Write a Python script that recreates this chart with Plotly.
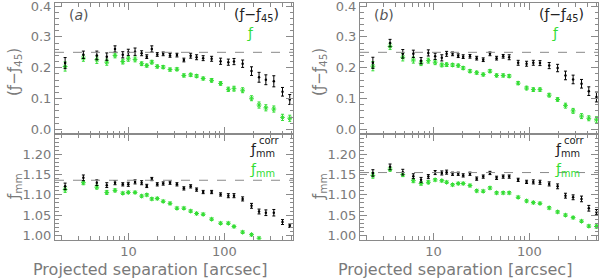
import plotly.graph_objects as go
import math

# ---------------- data ----------------
sep_a = [2.18, 3.38, 4.67, 5.93, 7.23, 8.71, 9.95, 11.7, 13.7, 15.5, 17.5, 19.95, 23.0, 27.1, 32.0,
         37.8, 44.5, 51.3, 60.1, 73.6, 91.3, 110, 126, 155, 192, 230, 271, 328, 404, 481]
sep_b = [2.33, 3.52, 4.78, 6.16, 7.41, 8.83, 10.4, 12.2, 13.7, 15.8, 18.1, 20.4, 24.0, 28.2, 33.0,
         38.8, 45.5, 53.3, 61.6, 76.4, 93.5, 110, 129, 161, 197, 238, 286, 350, 417, 501]

# panel (a) top: (f - f45) black, f green
fdiff_a = [0.215, 0.242, 0.240, 0.236, 0.261, 0.242, 0.250, 0.252, 0.247, 0.236, 0.261, 0.243, 0.245, 0.240, 0.241,
           0.225, 0.239, 0.234, 0.231, 0.229, 0.221, 0.218, 0.220, 0.213, 0.189, 0.169, 0.161, 0.156, 0.122, 0.097]
fdiff_a_err = [0.018, 0.012, 0.014, 0.012, 0.010, 0.010, 0.010, 0.012, 0.008, 0.006, 0.010, 0.006, 0.006, 0.006, 0.006,
               0.006, 0.008, 0.008, 0.008, 0.008, 0.010, 0.010, 0.010, 0.012, 0.014, 0.016, 0.016, 0.018, 0.014, 0.016]
f_a = [0.204, 0.231, 0.226, 0.218, 0.240, 0.220, 0.229, 0.227, 0.213, 0.207, 0.218, 0.204, 0.202, 0.194, 0.195,
       0.175, 0.177, 0.173, 0.165, 0.159, 0.149, 0.130, 0.132, 0.127, 0.101, 0.079, 0.070, 0.066, 0.039, 0.036]
f_a_err = [0.015, 0.010, 0.012, 0.010, 0.008, 0.008, 0.008, 0.008, 0.006, 0.005, 0.006, 0.005, 0.005, 0.005, 0.005,
           0.005, 0.005, 0.005, 0.005, 0.006, 0.006, 0.007, 0.008, 0.008, 0.008, 0.010, 0.010, 0.010, 0.010, 0.010]

# panel (a) bottom: f_mm^corr black, f_mm green
fmmc_a = [1.121, 1.142, 1.130, 1.124, 1.130, 1.126, 1.126, 1.132, 1.130, 1.122, 1.139, 1.126, 1.128, 1.130, 1.126,
          1.116, 1.121, 1.113, 1.107, 1.107, 1.101, 1.098, 1.098, 1.090, 1.073, 1.059, 1.056, 1.056, 1.033, 1.024]
fmmc_a_err = [0.008, 0.007, 0.007, 0.006, 0.005, 0.004, 0.005, 0.005, 0.005, 0.004, 0.004, 0.004, 0.004, 0.004, 0.004,
              0.004, 0.004, 0.004, 0.004, 0.004, 0.004, 0.005, 0.005, 0.005, 0.006, 0.006, 0.007, 0.008, 0.006, 0.004]
fmm_a = [1.113, 1.130, 1.119, 1.106, 1.111, 1.104, 1.106, 1.106, 1.097, 1.100, 1.090, 1.091, 1.084, 1.079, 1.067,
         1.067, 1.060, 1.054, 1.052, 1.040, 1.030, 1.030, 1.022, 1.008, 1.002, 0.993, None, None, None, None]
fmm_a_err = [0.007, 0.005, 0.005, 0.005, 0.004, 0.003, 0.003, 0.003, 0.003, 0.003, 0.003, 0.003, 0.003, 0.003, 0.003,
             0.003, 0.003, 0.003, 0.003, 0.003, 0.003, 0.003, 0.003, 0.003, 0.003, 0.003, 0.003, 0.003, 0.003, 0.003]

# panel (b) top
fdiff_b = [0.216, 0.280, 0.245, 0.245, 0.223, 0.248, 0.237, 0.232, 0.245, 0.245, 0.239, 0.236, 0.237, 0.231, 0.226,
           0.245, 0.231, 0.237, 0.234, 0.216, 0.213, 0.216, 0.215, 0.207, 0.199, 0.175, 0.162, 0.148, 0.124, 0.105]
fdiff_b_err = [0.018, 0.012, 0.014, 0.012, 0.010, 0.010, 0.010, 0.010, 0.008, 0.006, 0.006, 0.006, 0.006, 0.006, 0.006,
               0.006, 0.006, 0.006, 0.008, 0.008, 0.008, 0.008, 0.008, 0.010, 0.012, 0.014, 0.014, 0.014, 0.014, 0.016]
f_b = [0.205, 0.269, 0.234, 0.225, 0.215, 0.223, 0.218, 0.209, 0.210, 0.209, 0.207, 0.199, 0.189, 0.184, 0.178,
       0.189, 0.175, 0.175, 0.173, 0.150, 0.134, 0.129, 0.129, 0.111, 0.097, 0.077, 0.060, 0.043, 0.036, 0.031]
f_b_err = [0.015, 0.010, 0.012, 0.010, 0.008, 0.008, 0.008, 0.006, 0.006, 0.005, 0.005, 0.005, 0.005, 0.005, 0.005,
           0.005, 0.005, 0.005, 0.005, 0.005, 0.006, 0.006, 0.006, 0.006, 0.006, 0.008, 0.008, 0.008, 0.008, 0.010]

# panel (b) bottom
fmmc_b = [1.154, 1.169, 1.156, 1.146, 1.137, 1.145, 1.155, 1.154, 1.156, 1.152, 1.152, 1.148, 1.152, 1.140, 1.145,
          1.154, 1.142, 1.145, 1.145, 1.137, 1.132, 1.132, 1.131, 1.127, 1.121, 1.098, 1.094, 1.090, 1.067, 1.058]
fmmc_b_err = [0.008, 0.007, 0.007, 0.006, 0.006, 0.005, 0.005, 0.005, 0.005, 0.004, 0.004, 0.004, 0.004, 0.004, 0.004,
              0.004, 0.004, 0.004, 0.004, 0.004, 0.004, 0.005, 0.005, 0.005, 0.006, 0.006, 0.006, 0.007, 0.007, 0.006]
fmm_b = [1.148, 1.163, 1.150, 1.135, 1.128, 1.131, 1.137, 1.135, 1.131, 1.125, 1.128, 1.128, 1.123, 1.110, 1.109,
         1.117, 1.105, 1.105, 1.105, 1.094, 1.085, 1.081, 1.079, 1.068, 1.058, 1.050, 1.044, 1.035, 1.023, 1.022]
fmm_b_err = [0.007, 0.005, 0.005, 0.005, 0.004, 0.004, 0.003, 0.003, 0.003, 0.003, 0.003, 0.003, 0.003, 0.003, 0.003,
             0.003, 0.003, 0.003, 0.003, 0.003, 0.003, 0.003, 0.003, 0.003, 0.003, 0.003, 0.003, 0.003, 0.003, 0.004]

ref_top = 0.25
ref_bot_a = 1.136
ref_bot_b = 1.155

x_ticks = [10, 100]
x_ticktext = ["10", "100"]
top_ticks = [0.0, 0.1, 0.2, 0.3, 0.4]
bot_ticks = [1.00, 1.05, 1.10, 1.15, 1.20]

# ---------------- styling ----------------
BLACK = "#000000"
GREEN = "#33dd33"
AXC = "#8a8a8a"
TXT = "#7a7a7a"
FONT = "DejaVu Sans"

fig = go.Figure()

def add_pair(x, yb, eb, yg, eg, xa, ya):
    fig.add_trace(go.Scatter(
        x=x, y=yg, mode="markers", xaxis=xa, yaxis=ya, showlegend=False,
        marker=dict(symbol="asterisk-open", size=4, color=GREEN, line=dict(color=GREEN, width=1)),
        error_y=dict(type="data", array=eg, visible=True, color=GREEN, thickness=1, width=1.5)))
    fig.add_trace(go.Scatter(
        x=x, y=yb, mode="markers", xaxis=xa, yaxis=ya, showlegend=False,
        marker=dict(symbol="circle", size=2.5, color=BLACK),
        error_y=dict(type="data", array=eb, visible=True, color=BLACK, thickness=1, width=1.5)))

add_pair(sep_a, fdiff_a, fdiff_a_err, f_a, f_a_err, "x", "y")
add_pair(sep_a, fmmc_a, fmmc_a_err, fmm_a, fmm_a_err, "x2", "y2")
add_pair(sep_b, fdiff_b, fdiff_b_err, f_b, f_b_err, "x3", "y3")
add_pair(sep_b, fmmc_b, fmmc_b_err, fmm_b, fmm_b_err, "x4", "y4")

W, H = 600, 278
xl = [55 / W, 293 / W]
xr = [360 / W, 598 / W]
ytop = [(H - 134) / H, (H - 3) / H]
ybot = [(H - 239.5) / H, (H - 134) / H]
xrange_log = [math.log10(1.71), math.log10(520)]

def xaxis(domain, anchor, labels):
    return dict(
        type="log", domain=domain, anchor=anchor, range=xrange_log, automargin=False,
        tickvals=x_ticks, ticktext=x_ticktext, showticklabels=labels,
        ticks="inside", ticklen=7, tickcolor=AXC, tickwidth=1,
        minor=dict(ticks="inside", ticklen=3.5, tickcolor=AXC, dtick="D1", showgrid=False),
        showline=True, linecolor=AXC, linewidth=1, mirror="allticks", showgrid=False, zeroline=False,
        tickfont=dict(family=FONT, size=13, color=TXT), ticklabeloverflow="allow",
    )

def yaxis(domain, anchor, rng, ticks, fmt, minor_dtick):
    return dict(
        domain=domain, anchor=anchor, range=rng, tickvals=ticks, tickformat=fmt, automargin=False,
        ticks="inside", ticklen=7, tickcolor=AXC, tickwidth=1,
        minor=dict(ticks="inside", ticklen=3.5, tickcolor=AXC, dtick=minor_dtick, tick0=0, showgrid=False),
        showline=True, linecolor=AXC, linewidth=1, mirror="allticks", showgrid=False, zeroline=False,
        tickfont=dict(family=FONT, size=13, color=TXT), ticklabeloverflow="allow",
    )

fig.update_layout(
    width=W, height=H, margin=dict(l=0, r=0, t=0, b=0),
    paper_bgcolor="white", plot_bgcolor="white",
    xaxis=xaxis(xl, "y", False),
    xaxis2=xaxis(xl, "y2", True),
    xaxis3=xaxis(xr, "y3", False),
    xaxis4=xaxis(xr, "y4", True),
    yaxis=yaxis(ytop, "x", [-0.015, 0.41], top_ticks, ".1f", 0.02),
    yaxis2=yaxis(ybot, "x2", [0.99, 1.25], bot_ticks, ".2f", 0.01),
    yaxis3=yaxis(ytop, "x3", [-0.015, 0.41], top_ticks, ".1f", 0.02),
    yaxis4=yaxis(ybot, "x4", [0.99, 1.25], bot_ticks, ".2f", 0.01),
)

# dashed reference lines
for xa, ya, val in [("x", "y", ref_top), ("x2", "y2", ref_bot_a), ("x3", "y3", ref_top), ("x4", "y4", ref_bot_b)]:
    fig.add_shape(type="line", xref=f"{xa} domain", yref=ya, x0=0, x1=1, y0=val, y1=val,
                  line=dict(color="#8a8a8a", width=1, dash="dash"))

def ann(xa, ya, x, y, text, color, size=14, xanchor="left"):
    fig.add_annotation(xref=f"{xa} domain", yref=f"{ya} domain", x=x, y=y, text=text,
                       showarrow=False, xanchor=xanchor, yanchor="middle",
                       font=dict(family=FONT, size=size, color=color))

def pann(xp, yp, text, size, angle=0):
    fig.add_annotation(xref="paper", yref="paper", x=xp / W, y=1 - yp / H, text=text,
                       showarrow=False, xanchor="center", yanchor="middle", textangle=angle,
                       font=dict(family=FONT, size=size, color=TXT))

for xa, ya, xb, yb, lab in [("x", "y", "x2", "y2", "(<i>a</i>)"), ("x3", "y3", "x4", "y4", "(<i>b</i>)")]:
    ann(xa, ya, 0.05, 0.91, lab, "#555555")
    ann(xa, ya, 0.95, 0.91, "(ƒ−ƒ<sub>45</sub>)", "#222222", xanchor="right")
    ann(xa, ya, 0.80, 0.77, "ƒ", GREEN)
    ann(xb, yb, 0.81, 0.85, "ƒ<sub>mm</sub>", "#222222")
    ann(xb, yb, 0.85, 0.94, "corr", "#222222", size=10)
    ann(xb, yb, 0.81, 0.66, "ƒ<sub>mm</sub>", GREEN)

# axis titles
for x0 in (0, 305):
    pann(x0 + 150, 269, "Projected separation [arcsec]", 16)
    pann(x0 + 15, 72, "(ƒ−ƒ<sub>45</sub>)", 15, -90)
    pann(x0 + 14, 187, "ƒ<sub>mm</sub>", 15, -90)

# the page's default body margin would offset the 600x278 figure
fig.write_html("out.html", config={"displayModeBar": False},
               post_script="document.body.style.margin='0';")
